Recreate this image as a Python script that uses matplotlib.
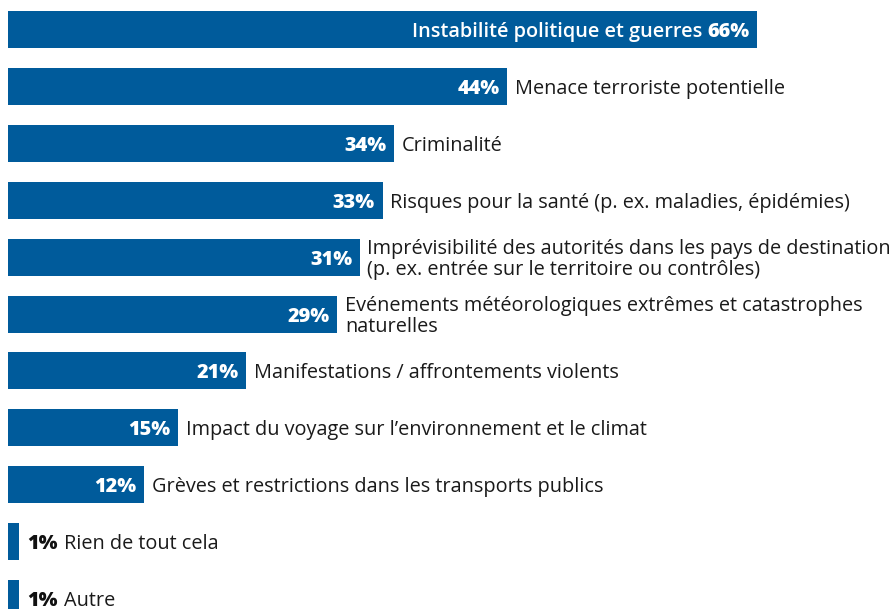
import matplotlib
matplotlib.use("Agg")
import matplotlib.pyplot as plt

# Data
labels = [
    "Instabilité politique et guerres",
    "Menace terroriste potentielle",
    "Criminalité",
    "Risques pour la santé (p. ex. maladies, épidémies)",
    "Imprévisibilité des autorités dans les pays de destination\n(p. ex. entrée sur le territoire ou contrôles)",
    "Evénements météorologiques extrêmes et catastrophes\nnaturelles",
    "Manifestations / affrontements violents",
    "Impact du voyage sur l’environnement et le climat",
    "Grèves et restrictions dans les transports publics",
    "Rien de tout cela",
    "Autre",
]
values = [66, 44, 34, 33, 31, 29, 21, 15, 12, 1, 1]

BLUE = "#005b9b"
plt.rcParams['font.family'] = ['Open Sans', 'DejaVu Sans']

fig = plt.figure(figsize=(8.96, 6.09), dpi=100)
ax = fig.add_axes([0, 0, 1, 1])

px_per_pct = 11.35
row_px = 56.9
first_px = 29.5
ax.set_xlim(-8 / px_per_pct, (896 - 8) / px_per_pct)
ax.set_ylim((609 - first_px) / row_px, -first_px / row_px)
ax.axis('off')

ypos = list(range(len(values)))
ax.barh(ypos, values, height=37 / row_px, color=BLUE)

pad = 5.5  # points
dy = -1.8  # nudge text down a bit
fs = 14.3
for i, (lab, v) in enumerate(zip(labels, values)):
    vtxt = f"{v}%"
    if i == 0:
        t = ax.annotate(vtxt, xy=(v, i), xytext=(-pad, dy), textcoords='offset points',
                        ha='right', va='center', fontsize=fs, fontweight='heavy', color='white')
        ax.annotate(lab + " ", xy=(0, 0.5), xycoords=t, ha='right', va='center',
                    fontsize=fs, fontweight='semibold', color='white')
    elif v > 5:
        ax.annotate(vtxt, xy=(v, i), xytext=(-pad, dy), textcoords='offset points',
                    ha='right', va='center', fontsize=fs, fontweight='heavy', color='white')
        ax.annotate(lab, xy=(v, i), xytext=(pad, dy), textcoords='offset points',
                    ha='left', va='center', fontsize=fs, color='#1a1a1a', linespacing=1.12)
    else:
        t = ax.annotate(vtxt, xy=(v, i), xytext=(pad, dy), textcoords='offset points',
                        ha='left', va='center', fontsize=fs, fontweight='heavy', color='#111111')
        ax.annotate(lab, xy=(1, 0.5), xycoords=t, xytext=(5, 0), textcoords='offset points',
                    ha='left', va='center', fontsize=fs, color='#1a1a1a')

fig.savefig("out.png", dpi=100)
